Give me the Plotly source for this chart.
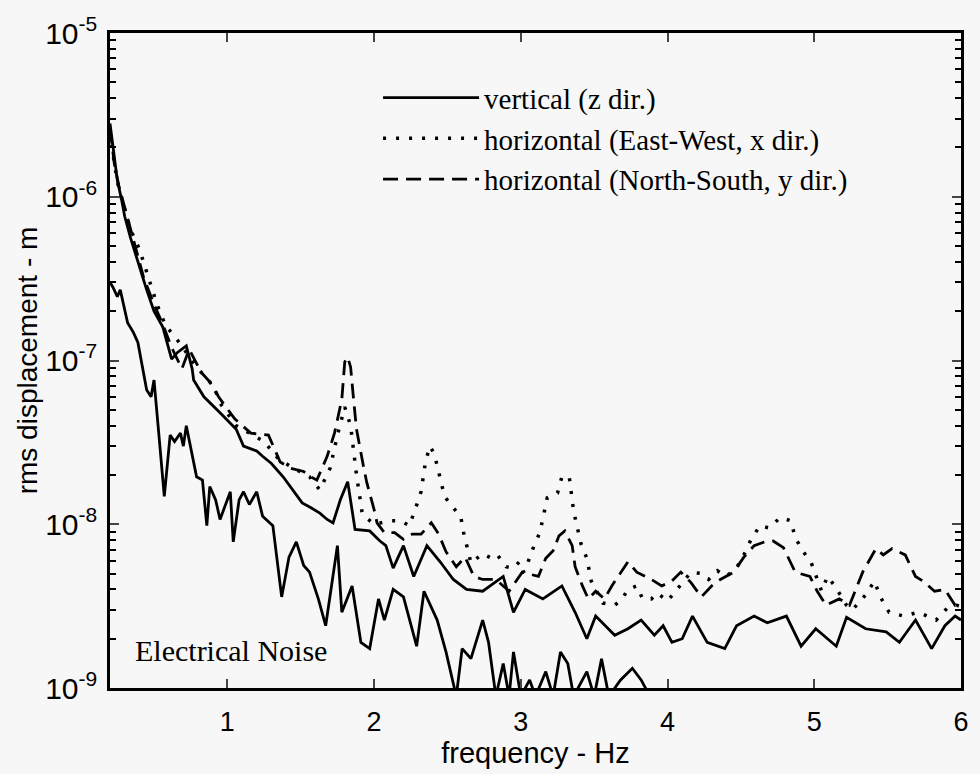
import plotly.graph_objects as go

# ---- data ----
z_freq = [0.20, 0.23, 0.25, 0.28, 0.30, 0.34, 0.37, 0.42, 0.45, 0.50, 0.56, 0.62, 0.66, 0.72, 0.76, 0.77,
          0.84, 0.95, 1.06, 1.11, 1.20, 1.24, 1.30, 1.38, 1.45, 1.51, 1.57, 1.63, 1.68, 1.72, 1.77, 1.82,
          1.87, 1.97, 2.04, 2.08, 2.13, 2.20, 2.27, 2.36, 2.45, 2.54, 2.63, 2.74, 2.88, 2.95, 3.03, 3.15,
          3.28, 3.37, 3.45, 3.51, 3.64, 3.73, 3.82, 3.91, 3.97, 4.03, 4.10, 4.17, 4.27, 4.39, 4.47, 4.59,
          4.68, 4.81, 4.91, 5.01, 5.15, 5.22, 5.35, 5.49, 5.58, 5.69, 5.80, 5.89, 5.96, 6.00]
z_disp = [2.8e-6, 1.66e-6, 1.26e-6, 9.5e-7, 7.6e-7, 5.6e-7, 4.6e-7, 3.2e-7, 2.7e-7, 2.0e-7, 1.6e-7, 1.02e-7,
          1.12e-7, 1.23e-7, 8.9e-8, 7.6e-8, 6.0e-8, 4.8e-8, 3.8e-8, 3.0e-8, 2.8e-8, 2.6e-8, 2.35e-8, 1.95e-8,
          1.6e-8, 1.35e-8, 1.26e-8, 1.17e-8, 1.07e-8, 1.02e-8, 1.41e-8, 1.82e-8, 9.3e-9, 9.1e-9, 7.9e-9,
          7.4e-9, 5.4e-9, 7.4e-9, 4.8e-9, 7.4e-9, 5.9e-9, 4.6e-9, 4.0e-9, 3.9e-9, 4.8e-9, 2.9e-9, 4.0e-9,
          3.5e-9, 4.2e-9, 2.9e-9, 2.0e-9, 2.75e-9, 2.1e-9, 2.3e-9, 2.6e-9, 2.1e-9, 2.4e-9, 1.9e-9, 2.0e-9,
          2.75e-9, 1.9e-9, 1.74e-9, 2.4e-9, 2.75e-9, 2.5e-9, 2.75e-9, 1.8e-9, 2.3e-9, 1.8e-9, 2.7e-9,
          2.3e-9, 2.2e-9, 1.9e-9, 2.6e-9, 1.74e-9, 2.4e-9, 2.75e-9, 2.6e-9]

ew_freq = [0.20, 0.23, 0.26, 0.30, 0.34, 0.40, 0.46, 0.52, 0.58, 0.64, 0.72, 0.80, 0.91, 0.95, 1.06, 1.15,
           1.25, 1.35, 1.45, 1.56, 1.63, 1.70, 1.75, 1.80, 1.84, 1.88, 1.92, 2.00, 2.11, 2.18, 2.24, 2.28,
           2.32, 2.35, 2.38, 2.41, 2.44, 2.48, 2.53, 2.59, 2.61, 2.66, 2.74, 2.80, 2.84, 2.90, 2.95, 2.99,
           3.02, 3.05, 3.09, 3.13, 3.18, 3.25, 3.28, 3.33, 3.36, 3.41, 3.45, 3.48, 3.56, 3.64, 3.69, 3.73,
           3.79, 3.83, 3.89, 3.93, 4.00, 4.08, 4.16, 4.23, 4.28, 4.34, 4.40, 4.47, 4.52, 4.57, 4.63, 4.69,
           4.77, 4.84, 4.87, 4.92, 4.98, 5.05, 5.09, 5.14, 5.22, 5.26, 5.35, 5.41, 5.45, 5.51, 5.61, 5.71,
           5.83, 5.91, 5.97, 6.00]
ew_disp = [2.5e-6, 1.58e-6, 1.12e-6, 8.3e-7, 6.3e-7, 4.8e-7, 3.2e-7, 2.2e-7, 1.62e-7, 1.41e-7, 1.12e-7,
           8.9e-8, 6.9e-8, 5.5e-8, 4.0e-8, 3.6e-8, 3.2e-8, 2.5e-8, 2.2e-8, 1.95e-8, 1.62e-8, 2.2e-8, 3.5e-8,
           5.2e-8, 4.0e-8, 2.0e-8, 1.15e-8, 1.0e-8, 1.05e-8, 1.05e-8, 9.8e-9, 1.23e-8, 1.58e-8, 2.4e-8,
           3.0e-8, 2.7e-8, 2.1e-8, 1.48e-8, 1.29e-8, 1.12e-8, 8.9e-9, 5.8e-9, 6.6e-9, 6.2e-9, 6.5e-9, 5.5e-9,
           5.4e-9, 5.9e-9, 5.1e-9, 5.9e-9, 7.4e-9, 8.9e-9, 1.45e-8, 1.55e-8, 1.95e-8, 1.95e-8, 1.2e-8,
           7.6e-9, 6.2e-9, 4.5e-9, 3.3e-9, 3.2e-9, 3.5e-9, 4.0e-9, 4.2e-9, 3.5e-9, 3.5e-9, 3.8e-9, 3.4e-9,
           4.2e-9, 5.1e-9, 5.0e-9, 4.6e-9, 5.2e-9, 4.8e-9, 5.4e-9, 6.5e-9, 8.1e-9, 9.8e-9, 9.5e-9, 1.1e-8,
           1.05e-8, 8.3e-9, 6.9e-9, 5.8e-9, 3.9e-9, 4.8e-9, 4.2e-9, 3.2e-9, 3.0e-9, 3.7e-9, 4.5e-9, 3.6e-9,
           2.9e-9, 2.75e-9, 2.9e-9, 2.6e-9, 3.1e-9, 3.2e-9, 3.15e-9]

ns_freq = [0.20, 0.23, 0.26, 0.30, 0.35, 0.43, 0.50, 0.56, 0.62, 0.69, 0.74, 0.78, 0.82, 0.88, 0.94, 1.05,
           1.16, 1.28, 1.36, 1.43, 1.52, 1.57, 1.61, 1.68, 1.73, 1.78, 1.80, 1.82, 1.84, 1.86, 1.88, 1.93,
           1.95, 2.00, 2.02, 2.07, 2.14, 2.20, 2.26, 2.32, 2.39, 2.44, 2.49, 2.56, 2.62, 2.68, 2.74, 2.83,
           2.92, 3.01, 3.12, 3.17, 3.22, 3.26, 3.30, 3.35, 3.37, 3.42, 3.46, 3.51, 3.57, 3.62, 3.68, 3.73,
           3.79, 3.89, 3.96, 4.03, 4.09, 4.16, 4.23, 4.30, 4.36, 4.45, 4.52, 4.59, 4.66, 4.72, 4.79, 4.87,
           4.97, 5.02, 5.08, 5.17, 5.24, 5.28, 5.33, 5.42, 5.47, 5.53, 5.62, 5.69, 5.74, 5.82, 5.89, 5.96,
           6.00]
ns_disp = [2.6e-6, 1.58e-6, 1.17e-6, 8.7e-7, 6.0e-7, 3.2e-7, 2.2e-7, 1.66e-7, 1.2e-7, 8.9e-8, 1.17e-7,
           1.0e-7, 8.5e-8, 7.4e-8, 6.0e-8, 4.4e-8, 3.6e-8, 3.5e-8, 2.4e-8, 2.2e-8, 2.1e-8, 1.95e-8, 1.86e-8,
           2.6e-8, 3.6e-8, 5.8e-8, 9.8e-8, 1.05e-7, 9.1e-8, 5.8e-8, 3.8e-8, 2.2e-8, 1.8e-8, 1.23e-8, 1.02e-8,
           8.9e-9, 8.9e-9, 8.1e-9, 8.7e-9, 8.7e-9, 1.02e-8, 8.7e-9, 6.8e-9, 5.5e-9, 6.3e-9, 4.8e-9, 4.6e-9,
           4.6e-9, 3.9e-9, 5.1e-9, 4.8e-9, 6.2e-9, 6.9e-9, 8.5e-9, 9.1e-9, 7.4e-9, 5.5e-9, 4.2e-9, 3.5e-9,
           3.9e-9, 3.5e-9, 4.2e-9, 5.1e-9, 5.9e-9, 5.1e-9, 4.6e-9, 4.2e-9, 4.5e-9, 5.1e-9, 4.4e-9, 3.6e-9,
           4.2e-9, 4.6e-9, 5.1e-9, 6.3e-9, 7.4e-9, 7.8e-9, 7.9e-9, 7.2e-9, 5.1e-9, 4.8e-9, 3.9e-9, 3.2e-9,
           3.5e-9, 3.2e-9, 3.9e-9, 5.1e-9, 7.1e-9, 6.5e-9, 7.1e-9, 6.5e-9, 4.8e-9, 4.5e-9, 3.9e-9, 4.0e-9,
           3.2e-9, 3.3e-9]

noise_freq = [0.20, 0.22, 0.25, 0.27, 0.32, 0.36, 0.39, 0.45, 0.48, 0.50, 0.53, 0.57, 0.61, 0.64, 0.68,
              0.70, 0.72, 0.79, 0.83, 0.86, 0.88, 0.92, 0.95, 1.02, 1.04, 1.08, 1.11, 1.15, 1.20, 1.24, 1.31,
              1.37, 1.42, 1.47, 1.52, 1.56, 1.62, 1.67, 1.75, 1.78, 1.85, 1.91, 1.97, 2.03, 2.07, 2.13, 2.20,
              2.29, 2.34, 2.43, 2.49, 2.56, 2.60, 2.66, 2.74, 2.78, 2.83, 2.88, 2.92, 2.95, 3.00, 3.06, 3.10,
              3.17, 3.22, 3.27, 3.32, 3.36, 3.45, 3.50, 3.55, 3.60, 3.68, 3.76, 3.82, 3.88, 3.95]
noise_disp = [3.0e-7, 2.8e-7, 2.45e-7, 2.7e-7, 1.7e-7, 1.48e-7, 1.29e-7, 6.6e-8, 6.0e-8, 7.6e-8, 3.8e-8,
              1.48e-8, 3.5e-8, 3.2e-8, 3.6e-8, 3.0e-8, 4.0e-8, 1.95e-8, 1.86e-8, 9.8e-9, 1.7e-8, 1.41e-8,
              1.07e-8, 1.58e-8, 7.8e-9, 1.41e-8, 1.58e-8, 1.32e-8, 1.58e-8, 1.12e-8, 9.8e-9, 3.6e-9, 6.3e-9,
              7.8e-9, 5.6e-9, 5.1e-9, 3.5e-9, 2.4e-9, 7.4e-9, 2.9e-9, 4.2e-9, 1.9e-9, 1.74e-9, 3.5e-9, 2.6e-9,
              4.0e-9, 3.6e-9, 1.8e-9, 3.9e-9, 2.6e-9, 1.66e-9, 8.9e-10, 1.74e-9, 1.51e-9, 2.6e-9, 1.9e-9,
              8.9e-10, 1.41e-9, 8.9e-10, 1.66e-9, 8.9e-10, 1.12e-9, 8.9e-10, 1.26e-9, 8.9e-10, 1.66e-9,
              1.41e-9, 8.9e-10, 1.26e-9, 8.9e-10, 1.51e-9, 8.9e-10, 1.12e-9, 1.32e-9, 1.12e-9, 8.9e-10, 6.3e-10]

legend_names = ["vertical (z dir.)", "horizontal (East-West, x dir.)", "horizontal (North-South, y dir.)"]
y_tick_vals = [1e-9, 1e-8, 1e-7, 1e-6, 1e-5]
y_tick_text = ["10<sup>-9</sup>", "10<sup>-8</sup>", "10<sup>-7</sup>", "10<sup>-6</sup>", "10<sup>-5</sup>"]
x_tick_vals = [1, 2, 3, 4, 5, 6]
y_minor_vals = [m * 10.0 ** e for e in range(-9, -5) for m in range(2, 10)]

BG = "#f7f7f7"
SERIF = "Liberation Serif, Times New Roman, serif"
SANS = "Liberation Sans, Arial, sans-serif"

fig = go.Figure()
fig.add_trace(go.Scatter(x=z_freq, y=z_disp, mode="lines", name=legend_names[0], legendgroup="a",
                         line=dict(color="black", width=2.8)))
fig.add_trace(go.Scatter(x=ew_freq, y=ew_disp, mode="lines", name=legend_names[1], legendgroup="b",
                         line=dict(color="black", width=3.5, dash="3px,10px")))
fig.add_trace(go.Scatter(x=ns_freq, y=ns_disp, mode="lines", name=legend_names[2], legendgroup="c",
                         line=dict(color="black", width=2.8, dash="15px,8px")))
fig.add_trace(go.Scatter(x=noise_freq, y=noise_disp, mode="lines", showlegend=False,
                         line=dict(color="black", width=2.8)))

fig.update_layout(
    width=980, height=774,
    margin=dict(l=110, r=11, t=33, b=86),
    paper_bgcolor=BG, plot_bgcolor=BG,
    font=dict(family=SANS, color="black"),
    legend=dict(x=0.315, y=0.94, xanchor="left", yanchor="top", bgcolor="rgba(0,0,0,0)",
                font=dict(family=SERIF, size=29), tracegroupgap=0, itemwidth=96),
    annotations=[dict(text="Electrical Noise", xref="paper", yref="paper", x=0.027, y=0.058,
                      xanchor="left", yanchor="middle", showarrow=False,
                      font=dict(family=SERIF, size=30))],
)
fig.update_xaxes(range=[0.2, 6], tickvals=x_tick_vals, ticks="inside", ticklen=9, tickwidth=2,
                 showline=True, linecolor="black", linewidth=2.5, mirror="ticks", showgrid=False,
                 zeroline=False, tickfont=dict(size=27), ticklabelstandoff=8,
                 title=dict(text="frequency - Hz", font=dict(size=29), standoff=6))
fig.update_yaxes(type="log", range=[-9, -5], tickvals=y_tick_vals, ticktext=y_tick_text,
                 ticks="inside", ticklen=9, tickwidth=2, showline=True, linecolor="black", linewidth=2.5,
                 mirror="ticks", showgrid=False, zeroline=False, tickfont=dict(size=30),
                 ticklabelstandoff=4,
                 minor=dict(tickvals=y_minor_vals, ticks="inside", ticklen=6, tickwidth=2,
                            tickcolor="black", showgrid=False),
                 title=dict(text="rms displacement - m", font=dict(size=28), standoff=0))

fig.write_html("out.html")
